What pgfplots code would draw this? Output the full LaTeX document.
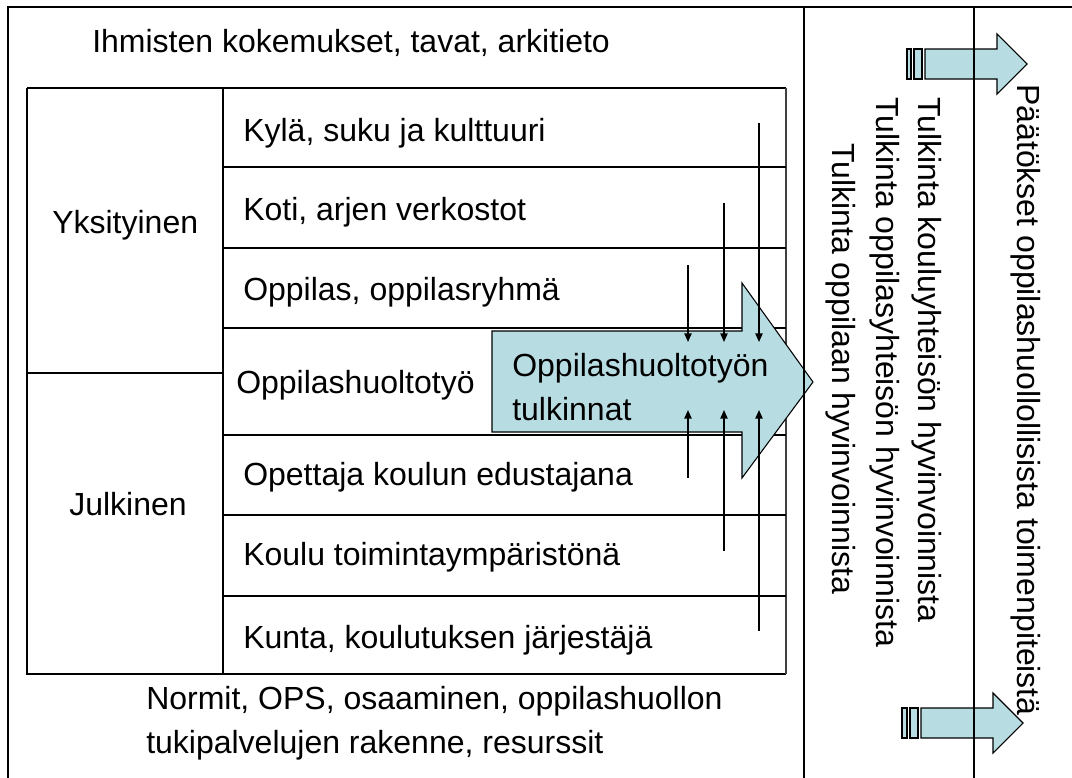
\documentclass[border=0pt]{standalone}
\usepackage{fontspec}
\setmainfont{Liberation Sans}
\usepackage{pgfplots}
\pgfplotsset{compat=1.18}
\usetikzlibrary{arrows.meta}
\definecolor{arrowc}{RGB}{183,221,227}
\newcommand{\fs}{\fontsize{24}{28}\selectfont}
\begin{document}
\begin{tikzpicture}
\begin{axis}[hide axis, scale only axis, width=804pt, height=583.5pt,
  xmin=0, xmax=1072, ymin=0, ymax=778, y dir=reverse, clip=false]
% inner table
\addplot[draw=black, line width=1pt] coordinates {(27,88) (786,88)};
\addplot[draw=black, line width=1pt] coordinates {(27,88) (27,674) (786,674)};
\addplot[draw=black!75, line width=0.9pt] coordinates {(786,88) (786,674)};
\addplot[draw=black, line width=1pt] coordinates {(223,88) (223,674)};
\addplot[draw=black, line width=1pt] coordinates {(27,373) (223,373)};
\addplot[draw=black, line width=1pt] coordinates {(223,167) (786,167)};
\addplot[draw=black, line width=1pt] coordinates {(223,248) (786,248)};
\addplot[draw=black, line width=1pt] coordinates {(223,328) (786,328)};
\addplot[draw=black, line width=1pt] coordinates {(223,435) (786,435)};
\addplot[draw=black, line width=1pt] coordinates {(223,515) (786,515)};
\addplot[draw=black, line width=1pt] coordinates {(223,596) (786,596)};
% big arrow
\addplot[fill=arrowc, draw=black, line width=0.8pt] coordinates {(492,331) (742,331) (742,283) (813,382) (742,478) (742,432) (492,432)} -- cycle;
% small block arrows
\addplot[fill=arrowc, draw=black, line width=0.8pt] coordinates {(907,49) (911,49) (911,79) (907,79)} -- cycle;
\addplot[fill=arrowc, draw=black, line width=0.8pt] coordinates {(914,49) (922,49) (922,79) (914,79)} -- cycle;
\addplot[fill=arrowc, draw=black, line width=0.8pt] coordinates {(925,49) (997,49) (997,34) (1027,64) (997,94) (997,79) (925,79)} -- cycle;
\addplot[fill=arrowc, draw=black, line width=0.8pt] coordinates {(902,708) (907,708) (907,738) (902,738)} -- cycle;
\addplot[fill=arrowc, draw=black, line width=0.8pt] coordinates {(910,708) (918,708) (918,738) (910,738)} -- cycle;
\addplot[fill=arrowc, draw=black, line width=0.8pt] coordinates {(921,708) (993,708) (993,693) (1023,723) (993,753) (993,738) (921,738)} -- cycle;
% thin vertical arrows
\addplot[draw=black, line width=1.1pt, -{Triangle[length=6.5pt,width=5.5pt]}] coordinates {(688,265) (688,342)};
\addplot[draw=black, line width=1.1pt, -{Triangle[length=6.5pt,width=5.5pt]}] coordinates {(724,203) (724,342)};
\addplot[draw=black, line width=1.1pt, -{Triangle[length=6.5pt,width=5.5pt]}] coordinates {(759,123) (759,342)};
\addplot[draw=black, line width=1.1pt, -{Triangle[length=6.5pt,width=5.5pt]}] coordinates {(688,478) (688,410)};
\addplot[draw=black, line width=1.1pt, -{Triangle[length=6.5pt,width=5.5pt]}] coordinates {(724,551) (724,410)};
\addplot[draw=black, line width=1.1pt, -{Triangle[length=6.5pt,width=5.5pt]}] coordinates {(759,631) (759,410)};
% outer frame
\addplot[draw=black, line width=1.5pt] coordinates {(8,778) (8,7) (1072,7)};
\addplot[draw=black, line width=1.5pt] coordinates {(804,7) (804,778)};
\addplot[draw=black, line width=1.5pt] coordinates {(974,7) (974,778)};
% texts
\node[anchor=base west, inner sep=0, font=\fs] at (axis cs:92,52) {Ihmisten kokemukset, tavat, arkitieto};
\node[anchor=base west, inner sep=0, font=\fs] at (axis cs:52,233) {Yksityinen};
\node[anchor=base west, inner sep=0, font=\fs] at (axis cs:69,515) {Julkinen};
\node[anchor=base west, inner sep=0, font=\fs] at (axis cs:243,141) {Kylä, suku ja kulttuuri};
\node[anchor=base west, inner sep=0, font=\fs] at (axis cs:243,220) {Koti, arjen verkostot};
\node[anchor=base west, inner sep=0, font=\fs] at (axis cs:243,300) {Oppilas, oppilasryhmä};
\node[anchor=base west, inner sep=0, font=\fs] at (axis cs:236,393) {Oppilashuoltotyö};
\node[anchor=base west, inner sep=0, font=\fs] at (axis cs:243,485) {Opettaja koulun edustajana};
\node[anchor=base west, inner sep=0, font=\fs] at (axis cs:243,565) {Koulu toimintaympäristönä};
\node[anchor=base west, inner sep=0, font=\fs] at (axis cs:243,648) {Kunta, koulutuksen järjestäjä};
\node[anchor=base west, inner sep=0, font=\fs] at (axis cs:512,376) {Oppilashuoltotyön};
\node[anchor=base west, inner sep=0, font=\fs] at (axis cs:512,420) {tulkinnat};
\node[anchor=base west, inner sep=0, font=\fs] at (axis cs:146,709) {Normit, OPS, osaaminen, oppilashuollon};
\node[anchor=base west, inner sep=0, font=\fs] at (axis cs:146,753) {tukipalvelujen rakenne, resurssit};
\node[anchor=base west, rotate=-90, inner sep=0, font=\fs] at (axis cs:918,97) {Tulkinta kouluyhteisön hyvinvoinnista};
\node[anchor=base west, rotate=-90, inner sep=0, font=\fs] at (axis cs:876,97) {Tulkinta oppilasyhteisön hyvinvoinnista};
\node[anchor=base west, rotate=-90, inner sep=0, font=\fs] at (axis cs:832,143) {Tulkinta oppilaan hyvinvoinnista};
\node[anchor=base, rotate=-90, inner sep=0, font=\fs] at (axis cs:1017,400) {Päätökset oppilashuollollisista toimenpiteistä};
\end{axis}
\pgfresetboundingbox
\path[use as bounding box] (current axis.south west) rectangle (current axis.north east);
\end{tikzpicture}
\end{document}
